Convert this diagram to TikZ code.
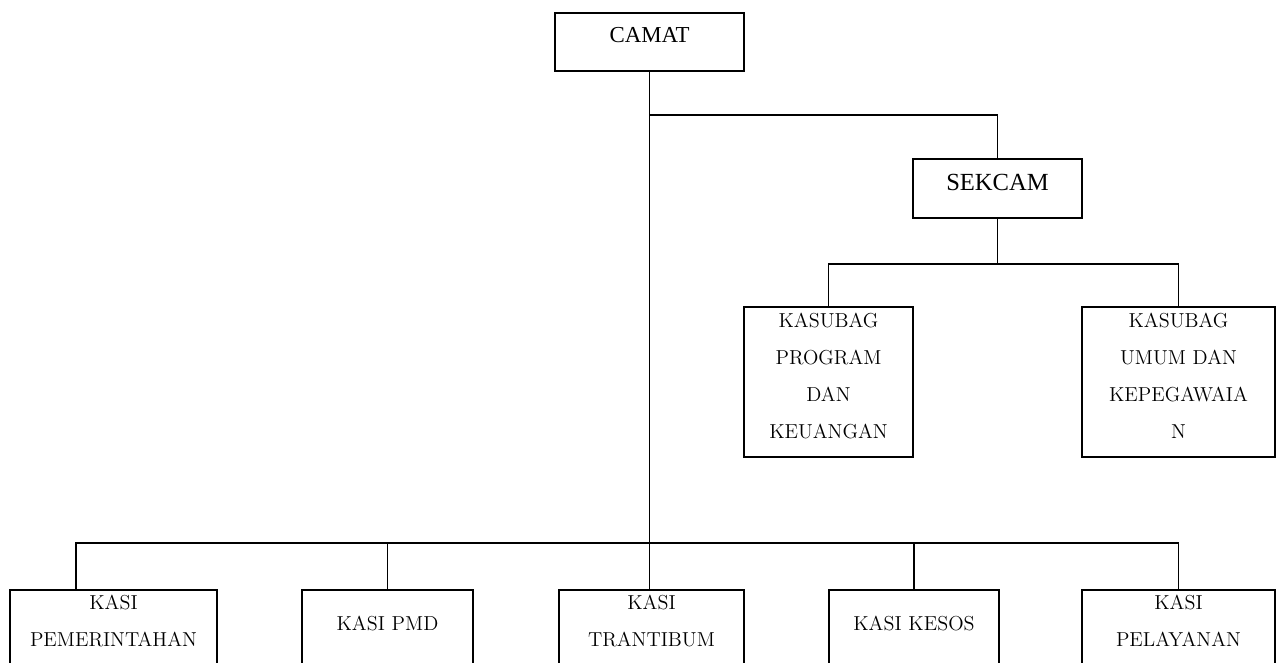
\documentclass[tikz,border=0pt]{standalone}
\usepackage{fontspec}
\newfontfamily\timesfont{Liberation Serif}
\usetikzlibrary{positioning}

\tikzset{
  unit/.style={draw, line width=1pt, inner sep=0pt, anchor=north, align=center},
  headunit/.style={unit, font=\timesfont\fontsize{13}{16}\selectfont},
  subunit/.style={unit, font=\fontsize{11.5}{21}\selectfont, text height=0.42cm, text depth=2.58cm},
  kasiunit/.style={unit, font=\fontsize{11.5}{21}\selectfont, text height=0.4cm, text depth=2cm},
  link/.style={line width=1pt}
}

\begin{document}
\begin{tikzpicture}[x=0.02cm, y=-0.02cm]
				\useasboundingbox (0,0) rectangle (1279,663);
				\node[headunit, text width=3.78cm, text height=0.6cm, text depth=0.56cm] (camat) at (649.5,12) {CAMAT};
				\node[headunit, font=\timesfont\fontsize{14}{17}\selectfont, text width=3.38cm, text height=0.64cm, text depth=0.54cm] (sekcam) at (997.5,158) {SEKCAM};
				\node[subunit, text width=3.38cm] (kprog) at (828.5,306) {KASUBAG\\PROGRAM\\DAN\\KEUANGAN};
				\node[subunit, text width=3.86cm] (kumum) at (1178.5,306) {KASUBAG\\UMUM DAN\\KEPEGAWAIA\\N};
				\node[kasiunit, text width=4.14cm] (kpem) at (113.5,589) {KASI\\PEMERINTAHAN};
				\node[kasiunit, text width=3.42cm, text height=0.82cm, text depth=1.6cm] (kpmd) at (387.5,589) {KASI PMD};
				\node[kasiunit, text width=3.7cm] (ktrantib) at (651.5,589) {KASI\\TRANTIBUM};
				\node[kasiunit, text width=3.4cm, text height=0.82cm, text depth=1.6cm] (kkesos) at (914,589) {KASI KESOS};
				\node[kasiunit, text width=3.86cm] (kpel) at (1178.5,589) {KASI\\PELAYANAN};
				\coordinate (split) at (649.5,115);
				\coordinate (bar) at (649.5,543);
				\draw[link] (camat.south) -- (camat.south |- ktrantib.north);
				\draw[link] (split) -| (sekcam.north);
				\draw[link] (sekcam.south) -- ++(0,45) coordinate (subbar);
				\draw[link] (kprog.north) |- (subbar) -| (kumum.north);
				\draw[link] ([xshift=-0.75cm]kpem.north) |- (bar) -| (kpel.north);
				\draw[link] (kpmd.north) -- (kpmd.north |- bar);
				\draw[link] (kkesos.north) -- (kkesos.north |- bar);
			\end{tikzpicture}
\end{document}
